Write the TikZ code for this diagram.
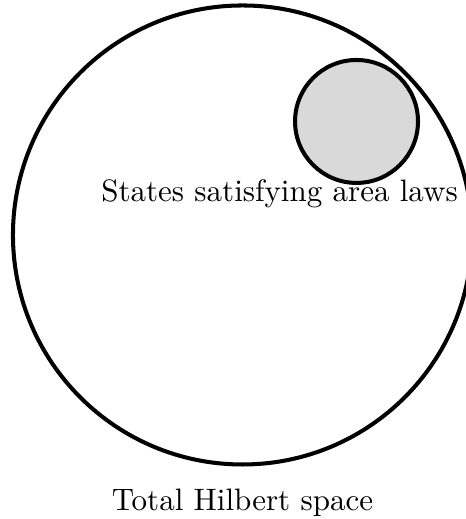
\documentclass[tikz,border=0pt]{standalone}
\usepackage{tikz}
\usetikzlibrary{positioning}

\begin{document}
\begin{tikzpicture}
\useasboundingbox (-2.749,-3.220) rectangle (2.523,2.664);

\draw[line width=1.3pt] (0,0) circle (2.602);
\draw[line width=1.3pt, fill=black!15] (1.293,1.287) circle (0.697);

\node[anchor=base] (arealaw) at (0.42,0.38) {States satisfying area laws};
\node[anchor=base] (hilbert) at (0,-3.118) {Total Hilbert space};
\end{tikzpicture}
\end{document}
